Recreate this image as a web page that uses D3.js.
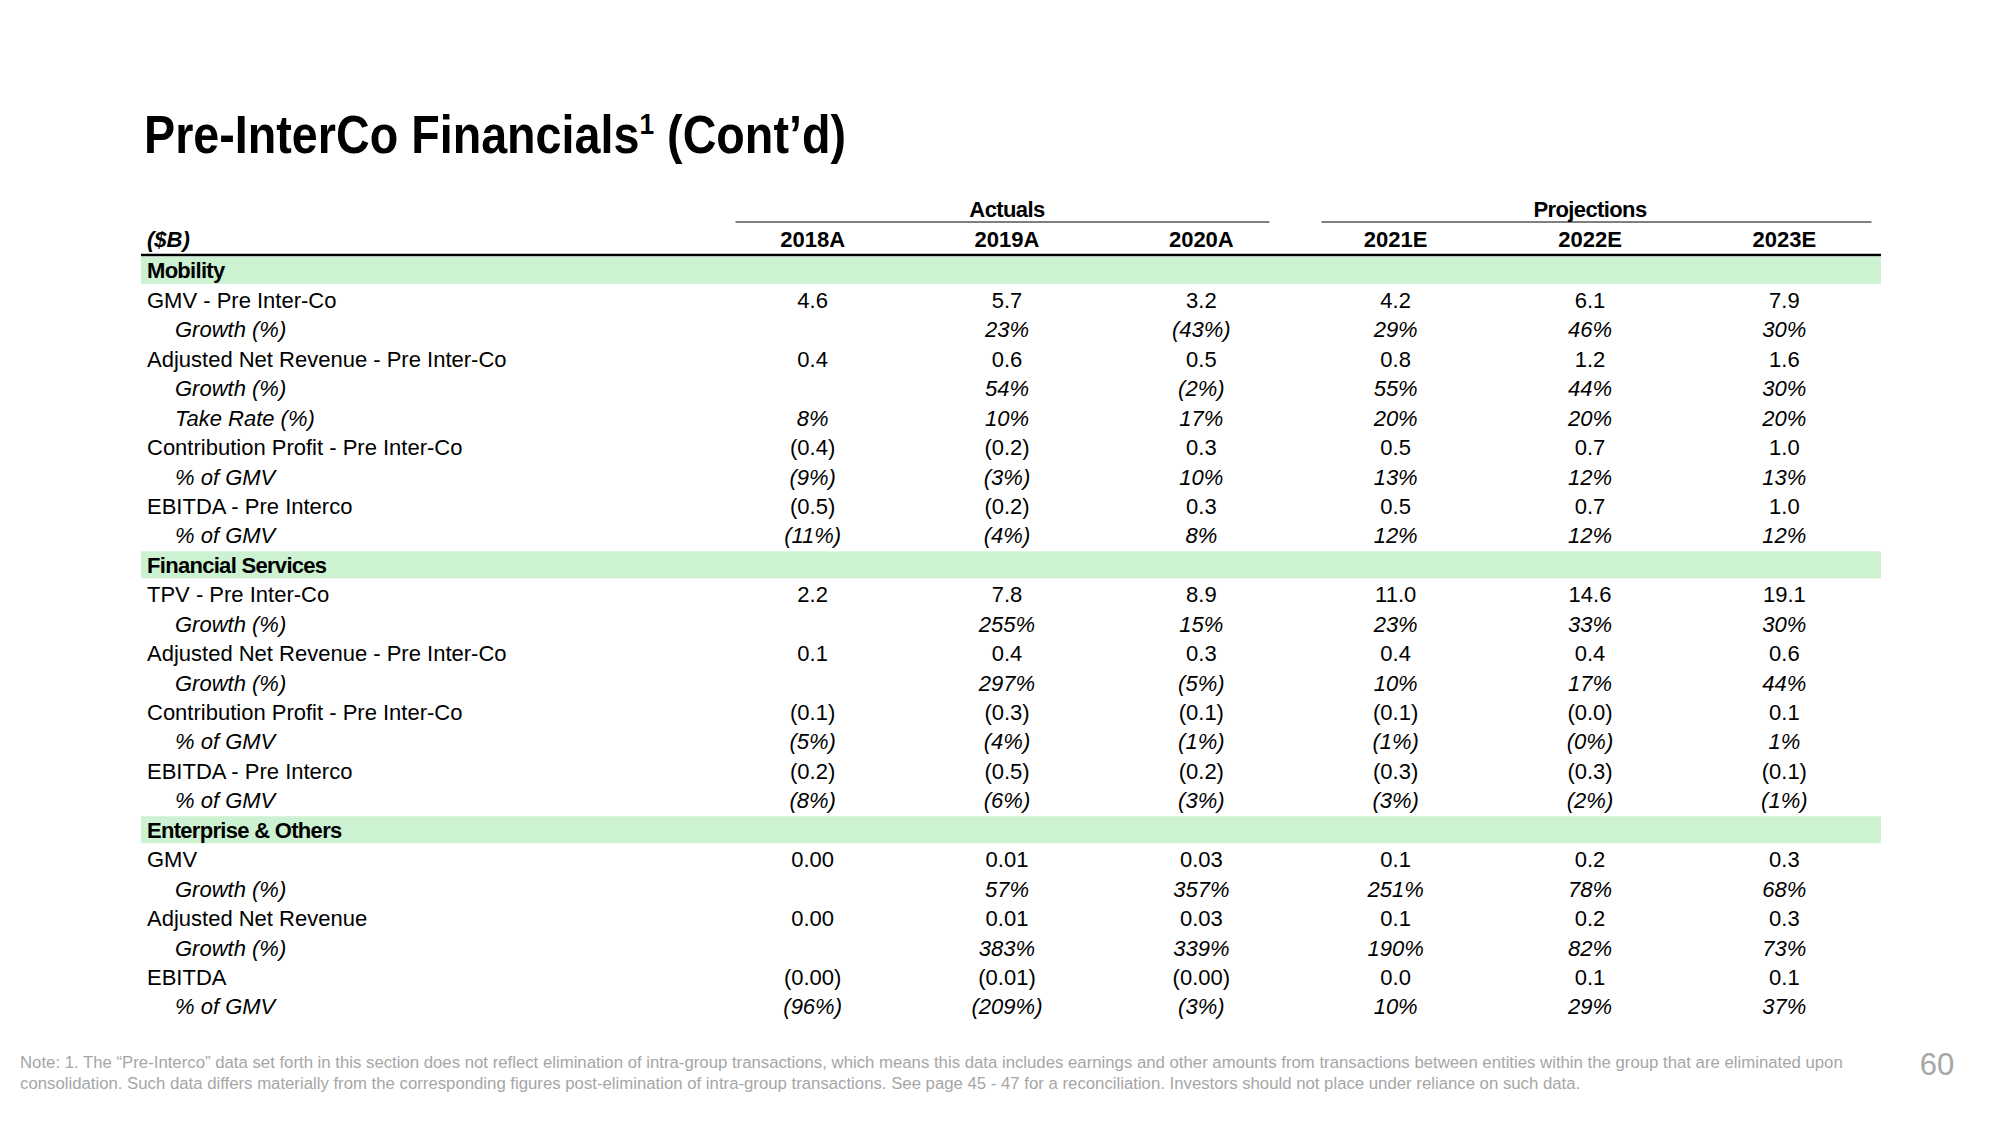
<!DOCTYPE html>
<html>
<head>
<meta charset="utf-8">
<script src="https://cdn.jsdelivr.net/npm/d3@7"></script>
<style>
  html, body { margin: 0; padding: 0; background: #fff; }
  svg { display: block; font-family: "Liberation Sans", Arial, sans-serif; }
</style>
</head>
<body>
<svg id="chart" width="2000" height="1125"></svg>
<script>
// ---------- data ----------
const title = "Pre-InterCo Financials";
const titleSup = "1";
const titleTail = " (Cont\u2019d)";
const unitLabel = "($B)";
const years = ["2018A", "2019A", "2020A", "2021E", "2022E", "2023E"];
const groups = [
  { name: "Actuals", from: "2018A", to: "2020A" },
  { name: "Projections", from: "2021E", to: "2023E" }
];
const sections = ["Mobility", "Financial Services", "Enterprise & Others"];

// kind: "v1" one-decimal value, "pct" percentage (italic, indented), "mix" per-cell decimals
const mobilityLabels = [
  "GMV - Pre Inter-Co", "Growth (%)", "Adjusted Net Revenue - Pre Inter-Co", "Growth (%)",
  "Take Rate (%)", "Contribution Profit - Pre Inter-Co", "% of GMV", "EBITDA - Pre Interco", "% of GMV"
];
const mobilityKinds = ["v1", "pct", "v1", "pct", "pct", "v1", "pct", "v1", "pct"];
const mobilityValues = [
  [4.6, 5.7, 3.2, 4.2, 6.1, 7.9],
  [null, 23, -43, 29, 46, 30],
  [0.4, 0.6, 0.5, 0.8, 1.2, 1.6],
  [null, 54, -2, 55, 44, 30],
  [8, 10, 17, 20, 20, 20],
  [-0.4, -0.2, 0.3, 0.5, 0.7, 1.0],
  [-9, -3, 10, 13, 12, 13],
  [-0.5, -0.2, 0.3, 0.5, 0.7, 1.0],
  [-11, -4, 8, 12, 12, 12]
];

const finServLabels = [
  "TPV - Pre Inter-Co", "Growth (%)", "Adjusted Net Revenue - Pre Inter-Co", "Growth (%)",
  "Contribution Profit - Pre Inter-Co", "% of GMV", "EBITDA - Pre Interco", "% of GMV"
];
const finServKinds = ["v1", "pct", "v1", "pct", "v1", "pct", "v1", "pct"];
const finServValues = [
  [2.2, 7.8, 8.9, 11.0, 14.6, 19.1],
  [null, 255, 15, 23, 33, 30],
  [0.1, 0.4, 0.3, 0.4, 0.4, 0.6],
  [null, 297, -5, 10, 17, 44],
  [-0.1, -0.3, -0.1, -0.1, -0.0, 0.1],
  [-5, -4, -1, -1, -0, 1],
  [-0.2, -0.5, -0.2, -0.3, -0.3, -0.1],
  [-8, -6, -3, -3, -2, -1]
];

const enterpriseLabels = [
  "GMV", "Growth (%)", "Adjusted Net Revenue", "Growth (%)", "EBITDA", "% of GMV"
];
const enterpriseKinds = ["mix", "pct", "mix", "pct", "mix", "pct"];
const enterpriseDecimals = [
  [2, 2, 2, 1, 1, 1],
  null,
  [2, 2, 2, 1, 1, 1],
  null,
  [2, 2, 2, 1, 1, 1],
  null
];
const enterpriseValues = [
  [0.00, 0.01, 0.03, 0.1, 0.2, 0.3],
  [null, 57, 357, 251, 78, 68],
  [0.00, 0.01, 0.03, 0.1, 0.2, 0.3],
  [null, 383, 339, 190, 82, 73],
  [-0.00, -0.01, -0.00, 0.0, 0.1, 0.1],
  [-96, -209, -3, 10, 29, 37]
];

const footnote1 = "Note: 1. The \u201cPre-Interco\u201d data set forth in this section does not reflect elimination of intra-group transactions, which means this data includes earnings and other amounts from transactions between entities within the group that are eliminated upon";
const footnote2 = "consolidation. Such data differs materially from the corresponding figures post-elimination of intra-group transactions. See page 45 - 47 for a reconciliation. Investors should not place under reliance on such data.";
const pageNumber = "60";

// ---------- build rows ----------
const rows = [];
function addSection(name, labels, kinds, values, decs) {
  rows.push({ type: "section", label: name });
  labels.forEach((l, i) => rows.push({
    type: kinds[i] === "pct" ? "pct" : "val",
    label: l, kind: kinds[i], values: values[i],
    decimals: decs ? decs[i] : null
  }));
}
addSection(sections[0], mobilityLabels, mobilityKinds, mobilityValues);
addSection(sections[1], finServLabels, finServKinds, finServValues);
addSection(sections[2], enterpriseLabels, enterpriseKinds, enterpriseValues, enterpriseDecimals);

function isNeg(v) { return v < 0 || Object.is(v, -0); }
function fmt(v, row, j) {
  if (v === null || v === undefined) return "";
  const neg = isNeg(v);
  const a = Math.abs(v);
  let s;
  if (row.kind === "pct") s = d3.format(".0f")(a) + "%";
  else if (row.kind === "v1") s = d3.format(".1f")(a);
  else s = d3.format("." + row.decimals[j] + "f")(a);
  return neg ? "(" + s + ")" : s;
}

// ---------- layout ----------
const svg = d3.select("#chart");
const left = 141, right = 1881;
const labelX = 147, subLabelX = 175;

const x = d3.scaleBand().domain(years).range([715.5, 1881.5]).padding(0);
const y = d3.scaleBand().domain(d3.range(rows.length)).range([255.7, 255.7 + 29.44 * rows.length]).padding(0);
const cx = d => x(d) + x.bandwidth() / 2;
const cy = i => y(i) + y.bandwidth() / 2;

// title
const tg = svg.append("g").attr("transform", "translate(144,153)");
const tt = tg.append("text")
  .attr("font-size", 53).attr("font-weight", "bold").attr("fill", "#000");
tt.append("tspan").text(title);
tt.append("tspan").attr("font-size", 30).attr("dy", -19).text(titleSup);
tt.append("tspan").attr("dy", 19).text(titleTail);
const tw = tt.node().getComputedTextLength();
tt.attr("transform", `scale(${702 / tw},1)`);

// group headers
groups.forEach(g => {
  const x0 = x(g.from), x1 = x(g.to) + x.bandwidth();
  const gx0 = g.name === "Actuals" ? x0 + 20 : x0 + 23;
  const gx1 = g.name === "Actuals" ? x1 - 29 : x1 - 10;
  svg.append("line").attr("x1", gx0).attr("x2", gx1).attr("y1", 222).attr("y2", 222)
    .attr("stroke", "#555").attr("stroke-width", 1.3);
  const mid = cx(years[years.indexOf(g.from) + 1]);
  svg.append("text").attr("x", mid).attr("y", 217).attr("text-anchor", "middle")
    .attr("font-size", 22).attr("font-weight", "bold").attr("letter-spacing", -0.6)
    .text(g.name);
});

// column headers
svg.append("text").attr("x", labelX).attr("y", 247).attr("font-size", 22)
  .attr("font-weight", "bold").attr("font-style", "italic").text(unitLabel);
svg.selectAll("text.year").data(years).join("text").attr("class", "year")
  .attr("x", d => cx(d)).attr("y", 247).attr("text-anchor", "middle")
  .attr("font-size", 22).attr("font-weight", "bold").text(d => d);

// section bands
rows.forEach((r, i) => {
  if (r.type === "section") {
    svg.append("rect").attr("x", left).attr("y", cy(i) - 13.5).attr("width", right - left)
      .attr("height", 27).attr("fill", "#ccf2d2");
  }
});

// header rule
svg.append("line").attr("x1", left).attr("x2", right).attr("y1", 255).attr("y2", 255)
  .attr("stroke", "#000").attr("stroke-width", 2.6);

// row labels and values
const rowG = svg.selectAll("g.row").data(rows).join("g").attr("class", "row");
rowG.append("text")
  .attr("x", d => d.type === "pct" ? subLabelX : labelX)
  .attr("y", (d, i) => cy(i) + 8)
  .attr("font-size", 22)
  .attr("font-weight", d => d.type === "section" ? "bold" : "normal")
  .attr("letter-spacing", d => d.type === "section" ? -0.7 : 0)
  .attr("font-style", d => d.type === "pct" ? "italic" : "normal")
  .attr("fill", "#000")
  .text(d => d.label);

rowG.each(function (r, i) {
  if (r.type === "section") return;
  d3.select(this).selectAll("text.val").data(r.values).join("text").attr("class", "val")
    .attr("x", (v, j) => cx(years[j]))
    .attr("y", cy(i) + 8)
    .attr("text-anchor", "middle")
    .attr("font-size", 22)
    .attr("font-style", r.type === "pct" ? "italic" : "normal")
    .attr("fill", "#000")
    .text((v, j) => fmt(v, r, j));
});

// footnote
svg.append("text").attr("x", 20).attr("y", 1068).attr("font-size", 16.75).attr("fill", "#a6a6a6")
  .text(footnote1);
svg.append("text").attr("x", 20).attr("y", 1089).attr("font-size", 16.75).attr("fill", "#a6a6a6")
  .text(footnote2);
svg.append("text").attr("x", 1937).attr("y", 1075).attr("text-anchor", "middle")
  .attr("font-size", 31).attr("fill", "#a6a6a6").text(pageNumber);
</script>
</body>
</html>
